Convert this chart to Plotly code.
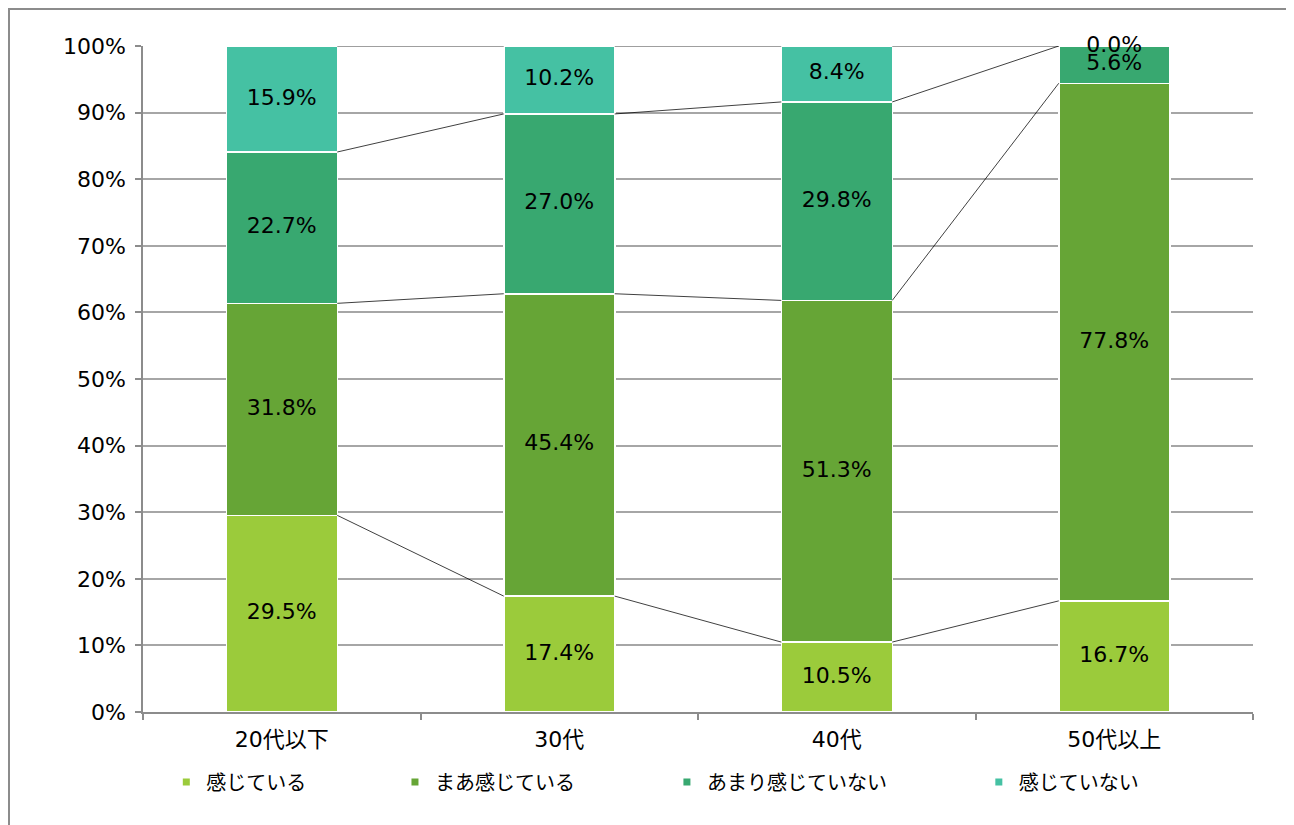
import plotly.graph_objects as go

categories = ["20代以下", "30代", "40代", "50代以上"]
series_names = ["感じている", "まあ感じている", "あまり感じていない", "感じていない"]
v_kanjiteiru = [29.5, 17.4, 10.5, 16.7]
v_maa = [31.8, 45.4, 51.3, 77.8]
v_amari = [22.7, 27.0, 29.8, 5.6]
v_nai = [15.9, 10.2, 8.4, 0.0]
colors = ["#9BCB3B", "#66A536", "#38A870", "#45C1A3"]
y_ticks = list(range(0, 101, 10))

series = [v_kanjiteiru, v_maa, v_amari, v_nai]
FONT = "DejaVu Sans, Noto Sans CJK JP"
BAR_W = 0.4
xs = list(range(len(categories)))

W, H = 1294, 825
ML, MR, MT, MB = 135, 49, 38, 121
PW, PH = W - ML - MR, H - MT - MB

# normalize (100% stacked)
totals = [sum(s[i] for s in series) for i in xs]
norm = [[s[i] / totals[i] * 100 for i in xs] for s in series]

fig = go.Figure()
for name, vals, col in zip(series_names, norm, colors):
    fig.add_trace(go.Bar(x=xs, y=vals, name=name, marker=dict(color=col, line=dict(color="white", width=1.5)),
                         width=BAR_W, showlegend=False, hoverinfo="skip"))

# series lines
cum = [0.0] * len(xs)
bounds = []
for vals in norm:
    cum = [c + v for c, v in zip(cum, vals)]
    bounds.append(list(cum))
for b in bounds:
    lx, ly = [], []
    for i in range(len(xs) - 1):
        lx += [xs[i] + BAR_W / 2, xs[i + 1] - BAR_W / 2, None]
        ly += [b[i], b[i + 1], None]
    fig.add_trace(go.Scatter(x=lx, y=ly, mode="lines", line=dict(color="black", width=0.75),
                             showlegend=False, hoverinfo="skip", cliponaxis=False))

# labels
base = [0.0] * len(xs)
tx, ty, tt = [], [], []
for raw, vals in zip(series, norm):
    for i in xs:
        tx.append(xs[i]); ty.append(base[i] + vals[i] / 2); tt.append(f"{raw[i]:.1f}%")
    base = [b + v for b, v in zip(base, vals)]
fig.add_trace(go.Scatter(x=tx, y=ty, text=tt, mode="text", textposition="middle center",
                         textfont=dict(family=FONT, size=22, color="black"),
                         showlegend=False, hoverinfo="skip", cliponaxis=False))

# legends (one per entry for Excel-like spacing)
legend_x = [0.021, 0.227, 0.472, 0.753]
for k, (name, col) in enumerate(zip(series_names, colors)):
    lg = "legend" if k == 0 else f"legend{k+1}"
    fig.add_trace(go.Scatter(x=[None], y=[None], mode="markers", name=name,
                             marker=dict(symbol="square", size=7, color=col), legend=lg))

legend_common = dict(orientation="h", yanchor="middle", y=-0.105, xanchor="left",
                     font=dict(family="Noto Sans CJK JP", size=20, color="black"), bgcolor="rgba(0,0,0,0)",
                     itemwidth=30, tracegroupgap=0)
layout_legends = {}
for k in range(4):
    key = "legend" if k == 0 else f"legend{k+1}"
    layout_legends[key] = dict(legend_common, x=legend_x[k])

fig.update_layout(
    width=W, height=H,
    margin=dict(l=ML, r=MR, t=MT, b=MB, autoexpand=False),
    barmode="stack",
    plot_bgcolor="white", paper_bgcolor="white",
    font=dict(family=FONT, size=22, color="black"),
    xaxis=dict(range=[-0.5, 3.5], tickmode="array", tickvals=xs, ticktext=categories,
               ticks="", showgrid=False, zeroline=False, showline=True, linecolor="#8C8C8C", linewidth=1.5,
               ticklabelstandoff=7,
               tickfont=dict(family=FONT, size=22, color="black"),
               minor=dict(tickmode="array", tickvals=[i - 0.5 for i in range(len(xs) + 1)],
                          ticks="outside", ticklen=6, tickcolor="#8C8C8C", tickwidth=1.5, showgrid=False)),
    yaxis=dict(range=[0, 100], tickmode="array", tickvals=y_ticks, ticktext=[f"{t}%" for t in y_ticks],
               ticks="outside", ticklen=6, tickcolor="#8C8C8C", tickwidth=1.5, ticklabelstandoff=5,
               showgrid=True, gridcolor="#A6A6A6", gridwidth=1.5, zeroline=False,
               showline=True, linecolor="#8C8C8C", linewidth=1.5,
               tickfont=dict(family=FONT, size=22, color="black")),
    **layout_legends,
)

# outer chart border (figure pixels converted to paper coords)
bx0, bx1, by_top, by_bot = 1, 1283, 1, H + 20
fig.add_shape(type="rect", xref="paper", yref="paper",
              x0=(bx0 - ML) / PW, x1=(bx1 - ML) / PW,
              y0=(MT + PH - by_bot) / PH, y1=(MT + PH - by_top) / PH,
              line=dict(color="#8C8C8C", width=2), fillcolor="rgba(0,0,0,0)", layer="below")

fig.write_html("out.html")
